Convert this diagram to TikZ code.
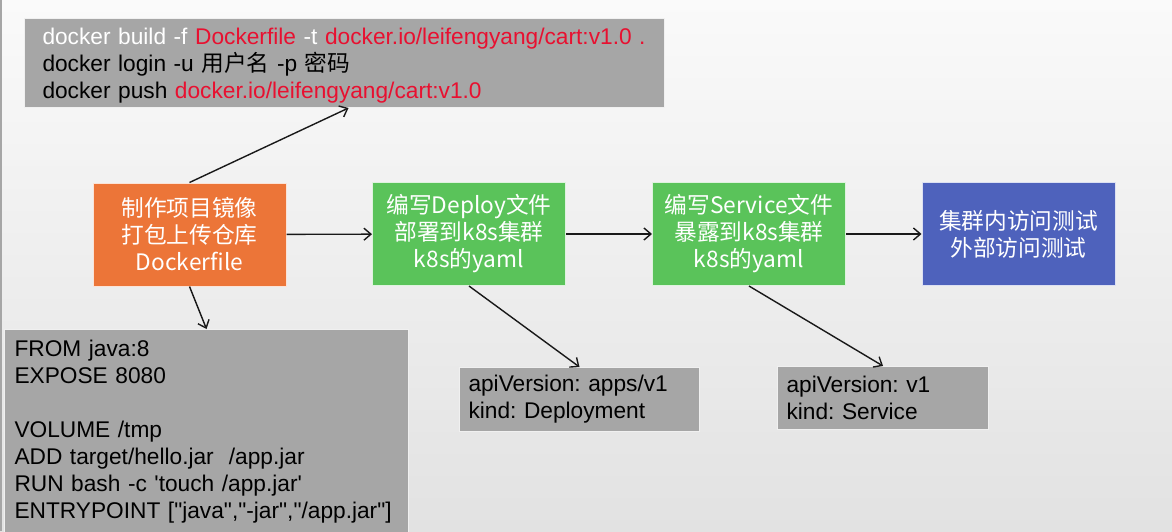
\documentclass[tikz,border=0pt]{standalone}
\usepackage{fontspec}
\setmainfont{Liberation Sans}[Ligatures=TeXOff]
\newfontfamily\cjk{Noto Sans CJK SC}
\usetikzlibrary{arrows.meta}
\frenchspacing
\definecolor{boxgray}{RGB}{166,166,166}
\definecolor{imgorange}{RGB}{236,117,56}
\definecolor{yamlgreen}{RGB}{90,195,90}
\definecolor{testblue}{RGB}{78,98,188}
\definecolor{cmdred}{RGB}{232,16,48}
\definecolor{bgtop}{RGB}{250,250,250}
\definecolor{bgbottom}{RGB}{226,226,226}

\begin{document}
\begin{tikzpicture}[x=1pt, y=-1pt, >={Straight Barb[length=7pt,width=12pt]},
    codebox/.style={draw=white!88!gray, line width=1pt, fill=boxgray, anchor=north west,
        align=left, font=\fontsize{22.7}{27}\selectfont},
    stagebox/.style={draw=white!80!#1, line width=1pt, fill=#1, minimum width=193pt,
        minimum height=103pt, text=white, align=center, font=\cjk\fontsize{22.7}{27}\selectfont},
    flow/.style={->, line width=1.4pt, black!90}]
    \useasboundingbox (0, 0) rectangle (1172, 531);

    % Background
    \shade[top color=bgtop, bottom color=bgbottom] (0, 0) rectangle (1172, 531);
    \draw[gray!70, line width=2.5pt] (1, 0) -- (1, 531);

    % Stages
    \node[stagebox=imgorange] (image) at (189.5, 234.5) {制作项目镜像\\打包上传仓库\\Dockerfile};
    \node[stagebox=yamlgreen] (deploy) at (469, 234) {编写Deploy文件\\部署到k8s集群\\k8s的yaml};
    \node[stagebox=yamlgreen] (service) at (749, 234) {编写Service文件\\暴露到k8s集群\\k8s的yaml};
    \node[stagebox=testblue] (test) at (1018.5, 234) {集群内访问测试\\外部访问测试};

    % Command and file boxes
    \node[codebox, minimum width=640pt, minimum height=89pt, text width=604pt, inner xsep=18pt] (push) at (24, 18)
        {\rule{0pt}{21.5pt}{\color{white}docker build -f} {\color{cmdred}Dockerfile} {\color{white}-t} {\color{cmdred}docker.io/leifengyang/cart:v1.0 .}\\
         docker login -u {\cjk 用户名} -p {\cjk 密码}\\
         docker push {\color{cmdred}docker.io/leifengyang/cart:v1.0}};
    \node[codebox, minimum width=404pt, minimum height=204pt, text width=384pt, inner xsep=10pt] (dockerfile) at (4, 329)
        {FROM java:8\\EXPOSE 8080\\[27pt]VOLUME /tmp\\ADD target/hello.jar \ /app.jar\\RUN bash -c 'touch /app.jar'\\ENTRYPOINT ["java","-jar","/app.jar"]};
    \node[codebox, minimum width=240pt, minimum height=64pt, text width=222pt, inner xsep=9pt] (deployyaml) at (459, 367)
        {apiVersion: apps/v1\\kind: Deployment};
    \node[codebox, minimum width=211pt, minimum height=63pt, text width=193pt, inner xsep=9pt] (serviceyaml) at (777, 366)
        {apiVersion: v1\\kind: Service};

    % Flow arrows
    \draw[flow] (image) -- (deploy);
    \draw[flow] (deploy) -- (service);
    \draw[flow] (service) -- (test);
    \draw[flow] (image.north) -- ([xshift=4pt]push.south);
    \draw[flow] (image.south) -- (dockerfile.north);
    \draw[flow] (deploy.south) -- (deployyaml.north);
    \draw[flow] (service.south) -- (serviceyaml.north);
\end{tikzpicture}
\end{document}
